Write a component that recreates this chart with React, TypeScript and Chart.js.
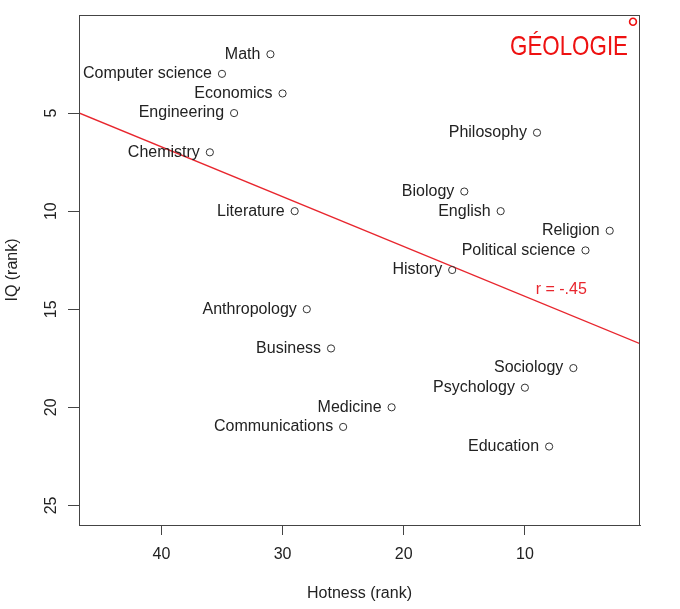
import React, { useEffect, useRef } from "react";
import { Chart, registerables } from "chart.js";

Chart.register(...registerables);

// ---- data ----
const MAJORS = [
  "Math", "Computer science", "Economics", "Engineering", "Chemistry",
  "Philosophy", "Biology", "English", "Literature", "Religion",
  "Political science", "History", "Anthropology", "Business", "Sociology",
  "Psychology", "Medicine", "Communications", "Education",
];
const HOTNESS_RANK = [31, 35, 30, 34, 36, 9, 15, 12, 29, 3, 5, 16, 28, 26, 6, 10, 21, 25, 8];
const IQ_RANK = [2, 3, 4, 5, 7, 6, 9, 10, 10, 11, 12, 13, 15, 17, 18, 19, 20, 21, 22];

const X_TICKS = [40, 30, 20, 10];
const Y_TICKS = [5, 10, 15, 20, 25];
const X_MIN = 0.5;
const X_MAX = 46.8;
const Y_MIN = 0;
const Y_MAX = 26;

const FIT_INTERCEPT = 16.88;
const FIT_SLOPE = -0.254;

const R_LABEL = "r = -.45";
const R_LABEL_X = 7;
const R_LABEL_Y = 14;

const NOTE = "GÉOLOGIE";

const X_TITLE = "Hotness (rank)";
const Y_TITLE = "IQ (rank)";

const FONT = "'Liberation Sans', Arial, Helvetica, sans-serif";
const RED = "#e8262e";
const AXIS = "#444";

const decorPlugin = {
  id: "decor",
  afterDatasetsDraw(chart: any) {
    const { ctx, chartArea, scales } = chart;
    ctx.save();
    // frame
    ctx.strokeStyle = AXIS;
    ctx.lineWidth = 1;
    ctx.strokeRect(
      Math.round(chartArea.left) + 0.5,
      Math.round(chartArea.top) + 0.5,
      Math.round(chartArea.right - chartArea.left) - 1,
      Math.round(chartArea.bottom - chartArea.top)
    );
    // point labels
    const meta = chart.getDatasetMeta(0);
    ctx.font = `16px ${FONT}`;
    ctx.fillStyle = "#222";
    ctx.textAlign = "right";
    ctx.textBaseline = "middle";
    meta.data.forEach((pt: any, i: number) => {
      ctx.fillText(MAJORS[i], pt.x - 10, pt.y);
    });
    // r label
    ctx.fillStyle = RED;
    ctx.textAlign = "center";
    ctx.fillText(R_LABEL, scales.x.getPixelForValue(R_LABEL_X), scales.y.getPixelForValue(R_LABEL_Y));
    // handwritten note
    ctx.fillStyle = "#ee1111";
    ctx.font = `28px ${FONT}`;
    ctx.textAlign = "left";
    ctx.textBaseline = "alphabetic";
    const targetW = 118;
    const w = ctx.measureText(NOTE).width;
    const nx = chartArea.right - 130;
    const ny = chartArea.top + 40;
    ctx.save();
    ctx.translate(nx, ny);
    ctx.scale(targetW / w, 1);
    ctx.fillText(NOTE, 0, 0);
    ctx.restore();
    ctx.font = `30px ${FONT}`;
    ctx.textAlign = "center";
    ctx.fillText("°", chartArea.right - 7, chartArea.top + 23);
    ctx.restore();
  },
};

export default function App() {
  const ref = useRef<HTMLCanvasElement | null>(null);

  useEffect(() => {
    if (!ref.current) return;
    const points = HOTNESS_RANK.map((x, i) => ({ x, y: IQ_RANK[i] }));
    const fit = [X_MIN, X_MAX].map((x) => ({ x, y: FIT_INTERCEPT + FIT_SLOPE * x }));

    const chart = new Chart(ref.current, {
      type: "scatter",
      data: {
        datasets: [
          {
            data: points,
            pointStyle: "circle",
            pointRadius: 3.6,
            pointBorderWidth: 1,
            pointBorderColor: "#333",
            pointBackgroundColor: "rgba(0,0,0,0)",
            showLine: false,
          } as any,
          {
            data: fit,
            showLine: true,
            borderColor: RED,
            borderWidth: 1.3,
            pointRadius: 0,
          } as any,
        ],
      },
      options: {
        responsive: false,
        animation: false,
        layout: { padding: { left: 0, top: 15, right: 40, bottom: 0 } },
        plugins: {
          legend: { display: false },
          tooltip: { enabled: false },
        },
        scales: {
          x: {
            type: "linear",
            reverse: true,
            min: X_MIN,
            max: X_MAX,
            afterBuildTicks: (s: any) => {
              s.ticks = X_TICKS.map((v) => ({ value: v }));
            },
            afterFit: (s: any) => {
              s.height = 84;
              s.paddingLeft = 0;
              s.paddingRight = 0;
              s.paddingTop = 0;
              s.paddingBottom = 0;
            },
            grid: {
              display: true,
              drawOnChartArea: false,
              drawTicks: true,
              tickLength: 10,
              color: AXIS,
            },
            border: { display: true, color: AXIS },
            ticks: {
              color: "#222",
              font: { family: FONT, size: 16 },
              padding: 10,
              maxRotation: 0,
              minRotation: 0,
            },
            title: {
              display: true,
              text: X_TITLE,
              color: "#222",
              font: { family: FONT, size: 16 },
              padding: { top: 0, bottom: 6 },
            },
          },
          y: {
            type: "linear",
            reverse: true,
            min: Y_MIN,
            max: Y_MAX,
            afterBuildTicks: (s: any) => {
              s.ticks = Y_TICKS.map((v) => ({ value: v }));
            },
            afterFit: (s: any) => {
              s.width = 79;
              s.paddingLeft = 0;
              s.paddingRight = 0;
              s.paddingTop = 0;
              s.paddingBottom = 0;
            },
            grid: {
              display: true,
              drawOnChartArea: false,
              drawTicks: true,
              tickLength: 11,
              color: AXIS,
            },
            border: { display: true, color: AXIS },
            ticks: {
              color: "#222",
              font: { family: FONT, size: 16 },
              padding: 8,
              minRotation: 90,
              maxRotation: 90,
              crossAlign: "center",
            },
            title: {
              display: true,
              text: Y_TITLE,
              color: "#222",
              font: { family: FONT, size: 16 },
              padding: { top: 3, bottom: 0 },
            },
          },
        },
      } as any,
      plugins: [decorPlugin],
    });
    return () => chart.destroy();
  }, []);

  return (
    <div style={{ position: "absolute", left: 0, top: 0, width: 680, height: 609, background: "#fff" }}>
      <canvas ref={ref} width={680} height={609} />
    </div>
  );
}
